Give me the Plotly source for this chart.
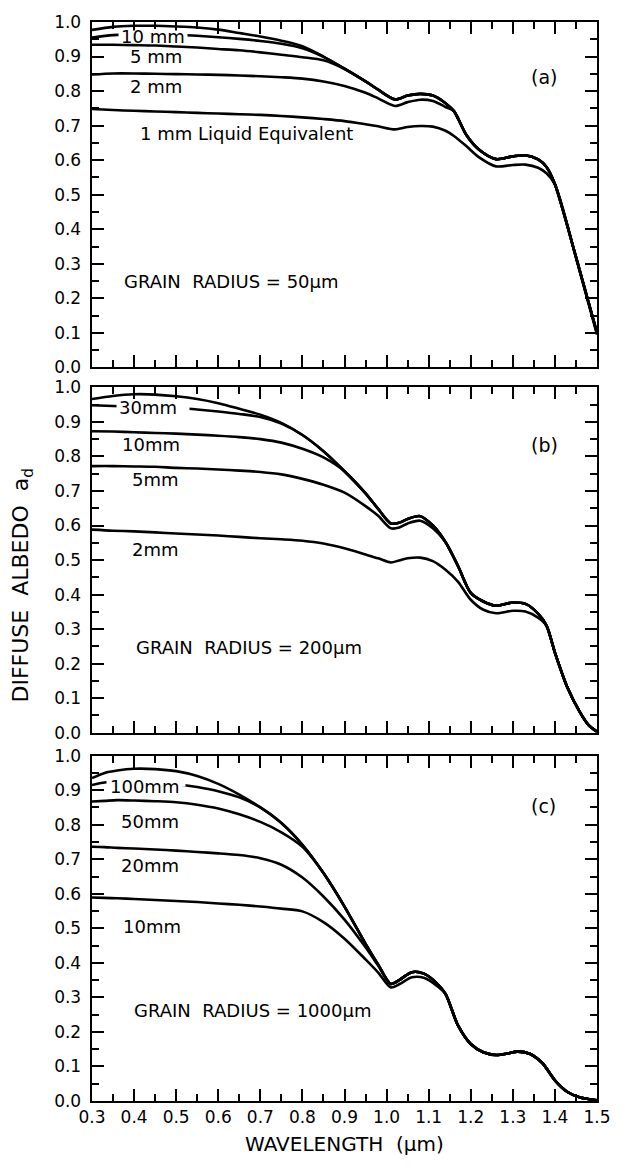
import plotly.graph_objects as go

# ---------------- data ----------------
x_a = [0.30, 0.35, 0.40, 0.45, 0.50, 0.55, 0.60, 0.65, 0.70, 0.75, 0.80, 0.85, 0.90, 0.95, 0.98,
       1.02, 1.05, 1.08, 1.11, 1.14, 1.16, 1.19, 1.22, 1.26, 1.30, 1.33, 1.36, 1.38, 1.40, 1.45, 1.50]
a_semi = [0.977, 0.986, 0.989, 0.989, 0.987, 0.984, 0.978, 0.968, 0.958, 0.946, 0.930, 0.900, 0.865, 0.828, 0.804,
          0.776, 0.787, 0.792, 0.787, 0.765, 0.742, 0.672, 0.630, 0.603, 0.611, 0.614, 0.602, 0.580, 0.530, 0.320, 0.100]
a_10mm = [0.955, 0.962, 0.965, 0.965, 0.963, 0.960, 0.956, 0.951, 0.945, 0.937, 0.924, 0.899, 0.865, 0.828, 0.804,
          0.776, 0.787, 0.792, 0.787, 0.765, 0.742, 0.672, 0.630, 0.603, 0.611, 0.614, 0.602, 0.580, 0.530, 0.320, 0.100]
a_5mm = [0.934, 0.934, 0.933, 0.932, 0.929, 0.926, 0.922, 0.918, 0.912, 0.905, 0.898, 0.889, 0.864, 0.828, 0.804,
         0.776, 0.787, 0.792, 0.787, 0.765, 0.742, 0.672, 0.630, 0.603, 0.611, 0.614, 0.602, 0.580, 0.530, 0.320, 0.100]
a_2mm = [0.848, 0.851, 0.851, 0.850, 0.849, 0.848, 0.847, 0.845, 0.843, 0.840, 0.836, 0.828, 0.815, 0.795, 0.779,
         0.757, 0.768, 0.775, 0.771, 0.754, 0.742, 0.672, 0.630, 0.603, 0.611, 0.614, 0.602, 0.580, 0.530, 0.320, 0.100]
a_1mm = [0.748, 0.745, 0.743, 0.741, 0.739, 0.737, 0.735, 0.733, 0.731, 0.728, 0.724, 0.719, 0.713, 0.704, 0.698,
         0.689, 0.696, 0.699, 0.697, 0.685, 0.670, 0.640, 0.608, 0.582, 0.586, 0.587, 0.578, 0.562, 0.530, 0.318, 0.095]

x_b = [0.30, 0.35, 0.40, 0.45, 0.50, 0.55, 0.60, 0.65, 0.70, 0.75, 0.80, 0.85, 0.90, 0.95, 0.98,
       1.01, 1.03, 1.05, 1.08, 1.11, 1.14, 1.17, 1.20, 1.23, 1.26, 1.30, 1.33, 1.36, 1.38, 1.40, 1.43, 1.46, 1.48, 1.50]
b_semi = [0.966, 0.975, 0.980, 0.979, 0.974, 0.966, 0.954, 0.938, 0.921, 0.897, 0.862, 0.815, 0.757, 0.693, 0.648,
          0.606, 0.608, 0.619, 0.627, 0.600, 0.552, 0.482, 0.405, 0.380, 0.368, 0.377, 0.373, 0.345, 0.310, 0.232, 0.130, 0.058, 0.022, 0.003]
b_30mm = [0.948, 0.946, 0.944, 0.942, 0.941, 0.936, 0.930, 0.923, 0.914, 0.895, 0.862, 0.815, 0.757, 0.693, 0.648,
          0.606, 0.608, 0.619, 0.627, 0.600, 0.552, 0.482, 0.405, 0.380, 0.368, 0.377, 0.373, 0.345, 0.310, 0.232, 0.130, 0.058, 0.022, 0.003]
b_10mm = [0.873, 0.872, 0.870, 0.868, 0.866, 0.863, 0.860, 0.856, 0.850, 0.840, 0.822, 0.797, 0.757, 0.693, 0.648,
          0.606, 0.608, 0.619, 0.627, 0.600, 0.552, 0.482, 0.405, 0.380, 0.368, 0.377, 0.373, 0.345, 0.310, 0.232, 0.130, 0.058, 0.022, 0.003]
b_5mm = [0.772, 0.772, 0.771, 0.770, 0.767, 0.765, 0.762, 0.759, 0.755, 0.748, 0.735, 0.718, 0.695, 0.656, 0.628,
         0.592, 0.594, 0.606, 0.614, 0.592, 0.552, 0.482, 0.405, 0.380, 0.368, 0.377, 0.373, 0.345, 0.310, 0.232, 0.130, 0.058, 0.022, 0.003]
b_2mm = [0.588, 0.585, 0.583, 0.580, 0.577, 0.574, 0.571, 0.567, 0.563, 0.560, 0.556, 0.548, 0.534, 0.516, 0.505,
         0.493, 0.499, 0.505, 0.507, 0.497, 0.472, 0.437, 0.385, 0.356, 0.346, 0.353, 0.351, 0.333, 0.310, 0.232, 0.130, 0.058, 0.022, 0.003]

x_c = [0.30, 0.33, 0.36, 0.40, 0.45, 0.50, 0.55, 0.60, 0.65, 0.70, 0.75, 0.80, 0.85, 0.90, 0.95, 0.98,
       1.01, 1.03, 1.06, 1.09, 1.12, 1.14, 1.17, 1.20, 1.23, 1.26, 1.29, 1.31, 1.34, 1.37, 1.40, 1.43, 1.46, 1.50]
c_semi = [0.935, 0.950, 0.957, 0.962, 0.961, 0.955, 0.941, 0.918, 0.887, 0.850, 0.805, 0.742, 0.660, 0.563, 0.455, 0.395,
          0.339, 0.350, 0.373, 0.368, 0.340, 0.310, 0.218, 0.165, 0.141, 0.133, 0.138, 0.143, 0.137, 0.110, 0.060, 0.026, 0.010, 0.002]
c_100mm = [0.915, 0.922, 0.925, 0.926, 0.924, 0.918, 0.909, 0.897, 0.879, 0.850, 0.805, 0.742, 0.660, 0.563, 0.455, 0.395,
           0.339, 0.350, 0.373, 0.368, 0.340, 0.310, 0.218, 0.165, 0.141, 0.133, 0.138, 0.143, 0.137, 0.110, 0.060, 0.026, 0.010, 0.002]
c_50mm = [0.867, 0.869, 0.871, 0.870, 0.868, 0.865, 0.858, 0.847, 0.830, 0.808, 0.778, 0.736, 0.660, 0.563, 0.455, 0.395,
          0.339, 0.350, 0.373, 0.368, 0.340, 0.310, 0.218, 0.165, 0.141, 0.133, 0.138, 0.143, 0.137, 0.110, 0.060, 0.026, 0.010, 0.002]
c_20mm = [0.736, 0.735, 0.733, 0.731, 0.728, 0.725, 0.721, 0.717, 0.712, 0.703, 0.684, 0.647, 0.592, 0.525, 0.445, 0.392,
          0.339, 0.350, 0.373, 0.368, 0.340, 0.310, 0.218, 0.165, 0.141, 0.133, 0.138, 0.143, 0.137, 0.110, 0.060, 0.026, 0.010, 0.002]
c_10mm = [0.589, 0.588, 0.587, 0.585, 0.582, 0.579, 0.576, 0.572, 0.568, 0.563, 0.557, 0.549, 0.518, 0.470, 0.410, 0.372,
          0.329, 0.338, 0.358, 0.356, 0.333, 0.310, 0.218, 0.165, 0.141, 0.133, 0.138, 0.143, 0.137, 0.110, 0.060, 0.026, 0.010, 0.002]

x_tick_vals = [0.3, 0.4, 0.5, 0.6, 0.7, 0.8, 0.9, 1.0, 1.1, 1.2, 1.3, 1.4, 1.5]
x_tick_text = ["0.3", "0.4", "0.5", "0.6", "0.7", "0.8", "0.9", "1.0", "1.1", "1.2", "1.3", "1.4", "1.5"]
y_tick_vals = [0.0, 0.1, 0.2, 0.3, 0.4, 0.5, 0.6, 0.7, 0.8, 0.9, 1.0]
y_tick_text = ["0.0", "0.1", "0.2", "0.3", "0.4", "0.5", "0.6", "0.7", "0.8", "0.9", "1.0"]

panels = [
    ("x", "y", x_a, [a_semi, a_10mm, a_5mm, a_2mm, a_1mm]),
    ("x2", "y2", x_b, [b_semi, b_30mm, b_10mm, b_5mm, b_2mm]),
    ("x3", "y3", x_c, [c_semi, c_100mm, c_50mm, c_20mm, c_10mm]),
]

# (axis suffix, x, y, text, gap in line? , gap centre x, gap centre y, gap width px)
labels = [
    ("", 0.445, 0.958, "10 mm", True, 0.445, 0.963, 68),
    ("", 0.452, 0.899, "5 mm", False, 0, 0, 0),
    ("", 0.452, 0.814, "2 mm", False, 0, 0, 0),
    ("", 0.668, 0.676, "1 mm Liquid Equivalent", False, 0, 0, 0),
    ("2", 0.433, 0.942, "30mm", True, 0.445, 0.943, 72),
    ("2", 0.440, 0.834, "10mm", False, 0, 0, 0),
    ("2", 0.452, 0.733, "5mm", False, 0, 0, 0),
    ("2", 0.452, 0.531, "2mm", False, 0, 0, 0),
    ("3", 0.425, 0.912, "100mm", True, 0.428, 0.924, 78),
    ("3", 0.437, 0.810, "50mm", False, 0, 0, 0),
    ("3", 0.437, 0.683, "20mm", False, 0, 0, 0),
    ("3", 0.442, 0.505, "10mm", False, 0, 0, 0),
]
panel_tags = [("", 1.375, 0.842, "(a)"), ("2", 1.375, 0.834, "(b)"), ("3", 1.372, 0.853, "(c)")]
grain_texts = [("", 0.632, 0.248, "GRAIN\u00a0\u00a0RADIUS = 50\u03bcm"),
               ("2", 0.672, 0.248, "GRAIN\u00a0\u00a0RADIUS = 200\u03bcm"),
               ("3", 0.682, 0.262, "GRAIN\u00a0\u00a0RADIUS = 1000\u03bcm")]

FONT = "DejaVu Sans"
fig = go.Figure()

for xa, ya, xs, series in panels:
    for ys in series:
        fig.add_trace(go.Scatter(x=xs, y=ys, xaxis=xa, yaxis=ya, mode="lines",
                                 line=dict(color="black", width=2.6, shape="spline", smoothing=0.8),
                                 showlegend=False, hoverinfo="skip"))

domains = [[0.6799, 1.0], [0.3413, 0.6614], [0.0, 0.3201]]
fig.update_layout(template="simple_white", width=623, height=1167,
                  plot_bgcolor="rgba(0,0,0,0)", paper_bgcolor="white",
                  margin=dict(l=92, r=15, t=17, b=66), showlegend=False,
                  font=dict(family=FONT, size=18, color="black"))
for i, suf in enumerate(["", "2", "3"]):
    fig.update_layout(**{
        "xaxis" + suf: dict(
            showgrid=False, zeroline=False, showline=True, linecolor="black", linewidth=2,
            mirror="ticks", ticks="inside", ticklen=12, tickwidth=2, tickcolor="black",
            layer="above traces",
            range=[0.3, 1.5], tickmode="array", tickvals=x_tick_vals, ticktext=x_tick_text,
            anchor="y" + suf, showticklabels=(suf == "3"),
            tickfont=dict(family=FONT, size=17, color="black"),
            minor=dict(ticks="inside", ticklen=7, tickwidth=1.5, tickcolor="black",
                       tickmode="linear", tick0=0.3, dtick=0.05, showgrid=False)),
        "yaxis" + suf: dict(
            showgrid=False, zeroline=False, showline=True, linecolor="black", linewidth=2,
            mirror="ticks", ticks="inside", ticklen=12, tickwidth=2, tickcolor="black",
            layer="above traces",
            range=[0, 1.0], domain=domains[i], tickmode="array", tickvals=y_tick_vals,
            ticktext=[t + "\u00a0" for t in y_tick_text], anchor="x" + suf,
            tickfont=dict(family=FONT, size=17, color="black"),
            minor=dict(ticks="inside", ticklen=7, tickwidth=1.5, tickcolor="black",
                       tickmode="linear", tick0=0, dtick=0.05, showgrid=False)),
    })

for suf, x, y, txt, gap, gx, gy, gw in labels:
    if gap:
        # white patch that interrupts the curve behind its label
        fig.add_annotation(x=gx, y=gy, xref="x" + suf, yref="y" + suf, text="\u00a0",
                           showarrow=False, width=gw, height=8, borderpad=0, bgcolor="white",
                           font=dict(family=FONT, size=4, color="white"))
    fig.add_annotation(x=x, y=y, xref="x" + suf, yref="y" + suf, text=txt, showarrow=False,
                       font=dict(family=FONT, size=18, color="black"))
for suf, x, y, txt in panel_tags:
    fig.add_annotation(x=x, y=y, xref="x" + suf, yref="y" + suf, text=txt, showarrow=False,
                       font=dict(family=FONT, size=19, color="black"))
for suf, x, y, txt in grain_texts:
    fig.add_annotation(x=x, y=y, xref="x" + suf, yref="y" + suf, text=txt, showarrow=False,
                       font=dict(family=FONT, size=18, color="black"))

fig.add_annotation(x=0.5, y=-0.040, xref="paper", yref="paper", text="WAVELENGTH\u00a0\u00a0(\u03bcm)",
                   showarrow=False, yanchor="middle", font=dict(family=FONT, size=20, color="black"))
fig.add_annotation(x=-0.138, y=0.478, xref="paper", yref="paper",
                   text="DIFFUSE\u00a0\u00a0ALBEDO\u00a0\u00a0a<sub>d</sub>",
                   textangle=-90, showarrow=False, xanchor="center", yanchor="middle",
                   font=dict(family=FONT, size=22, color="black"))

fig.write_html("out.html")
